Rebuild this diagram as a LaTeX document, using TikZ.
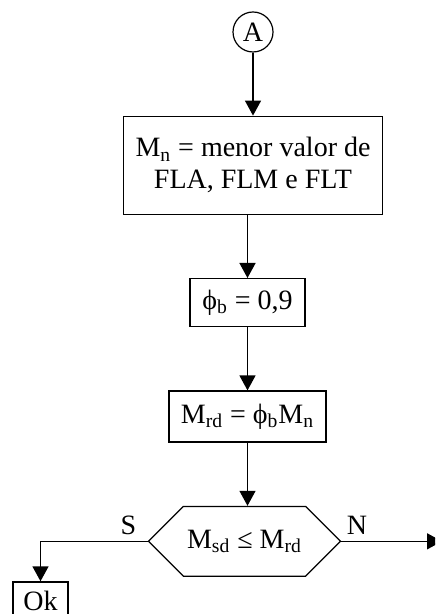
\documentclass[tikz,border=0pt]{standalone}
\usepackage{fontspec}
\setmainfont{Liberation Serif}
\usetikzlibrary{positioning, arrows.meta, shapes.misc}

\begin{document}
\begin{tikzpicture}[
    x=0.5pt, y=0.5pt,
    node distance=31.5pt,
    font=\fontsize{14}{16}\selectfont,
    box/.style={rectangle, draw, line width=0.7pt, align=center, inner sep=2pt},
    conn/.style={circle, draw, line width=0.6pt, minimum size=20pt, inner sep=0pt},
    decision/.style={chamfered rectangle, chamfered rectangle xsep=12.5pt,
      chamfered rectangle ysep=11.75pt, draw, line width=0.6pt,
      minimum width=96pt, minimum height=23.5pt, inner sep=0pt},
    lbl/.style={inner sep=0pt},
    arrow/.style={-{Triangle[width=8pt,length=7.5pt]}, line width=0.7pt}
  ]

  \clip (0,0) rectangle (435,-614);

  % nós do fluxograma
  \node[conn] (ptA) at (253,-32) {A};
  \node[box, minimum width=129.5pt, minimum height=49pt, below=of ptA] (mn)
    {M\textsubscript{n} = menor valor de\\FLA, FLM e FLT};
  \node[box, minimum width=57.5pt, minimum height=24pt, below=of mn, xshift=-2.75pt] (phib)
    {ϕ\textsubscript{b} = 0,9};
  \node[box, minimum width=78.5pt, minimum height=25.5pt, below=of phib] (mrd)
    {M\textsubscript{rd} = ϕ\textsubscript{b}M\textsubscript{n}};
  \node[decision, below=of mrd, xshift=-1.5pt] (teste)
    {M\textsubscript{sd} ≤ M\textsubscript{rd}};
  \node[box, minimum width=27.5pt, minimum height=19pt] (ok) at (40.5,-601) {Ok};
  \coordinate (saida) at (442,-525);

  % ligações
  \draw[arrow] (ptA) -- (mn);
  \draw[arrow] (phib.north |- mn.south) -- (phib.north);
  \draw[arrow] (phib) -- (mrd);
  \draw[arrow] (mrd.south) -- (mrd.south |- teste.north);

  % saídas do teste
  \draw[arrow] (teste.west) node[lbl, anchor=south east, xshift=-5.5pt, yshift=3pt] {S} -| (ok.north);
  \draw[arrow] (teste.east) node[lbl, anchor=south west, xshift=2.5pt, yshift=3pt] {N} -- (teste.east -| saida);

\end{tikzpicture}
\end{document}
